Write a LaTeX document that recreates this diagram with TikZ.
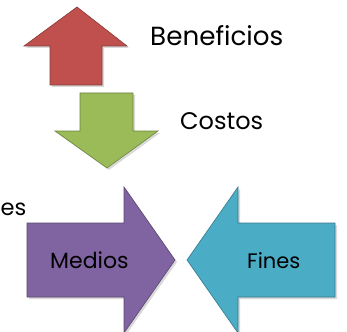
\documentclass[tikz,border=0pt]{standalone}
\usepackage{fontspec}
\setmainfont{Poppins}
\definecolor{redA}{HTML}{C0504D}
\definecolor{greenA}{HTML}{9BBB59}
\definecolor{purpleA}{HTML}{8064A2}
\definecolor{blueA}{HTML}{4BACC6}
\begin{document}
\begin{tikzpicture}[x=1pt,y=-1pt,
  arrowshape/.style={draw=#1!70!black, line width=0.6pt, fill=#1},
  shade/.style={fill=black!25, draw=none},
  lbl/.style={inner sep=0pt, anchor=base west, text=black}]
\useasboundingbox (0,0) rectangle (347,331);
\begin{scope}
\clip (0,0) rectangle (347,331);
% shadows
\fill[shade,opacity=0.6] (77,9) -- (129,48) -- (104,48) -- (104,87) -- (52,87) -- (52,48) -- (26,48) -- cycle;
\fill[shade,opacity=0.6] (82,95) -- (135,95) -- (135,133) -- (160,133) -- (109,170) -- (57,133) -- (82,133) -- cycle;
\fill[shade,opacity=0.6] (29,225) -- (126,225) -- (126,189) -- (177,262) -- (126,335) -- (126,299) -- (29,299) -- cycle;
\fill[shade,opacity=0.6] (337,225) -- (240,225) -- (240,189) -- (189,262) -- (240,335) -- (240,299) -- (337,299) -- cycle;
% arrows
\path[arrowshape=redA] (77,7) -- (127,46) -- (102,46) -- (102,85) -- (50,85) -- (50,46) -- (24,46) -- cycle;
\path[arrowshape=greenA] (80,93) -- (133,93) -- (133,131) -- (158,131) -- (107,168) -- (55,131) -- (80,131) -- cycle;
\path[arrowshape=purpleA] (27,223) -- (124,223) -- (124,187) -- (175,260) -- (124,333) -- (124,297) -- (27,297) -- cycle;
\path[arrowshape=blueA] (335,223) -- (238,223) -- (238,187) -- (187,260) -- (238,333) -- (238,297) -- (335,297) -- cycle;
\end{scope}
% labels
\node[lbl, font=\fontsize{26.2}{31}\selectfont] (ben) at (150,46) {Beneficios};
\node[lbl, font=\fontsize{24}{29}\selectfont] (cos) at (180,129) {Costos};
\node[lbl, font=\fontsize{22.5}{27}\selectfont] (es) at (0.5,215) {es};
\node[lbl, font=\fontsize{22}{26}\selectfont] (med) at (50,268) {Medios};
\node[lbl, font=\fontsize{21}{25}\selectfont] (fin) at (247,268) {Fines};
\end{tikzpicture}
\end{document}
